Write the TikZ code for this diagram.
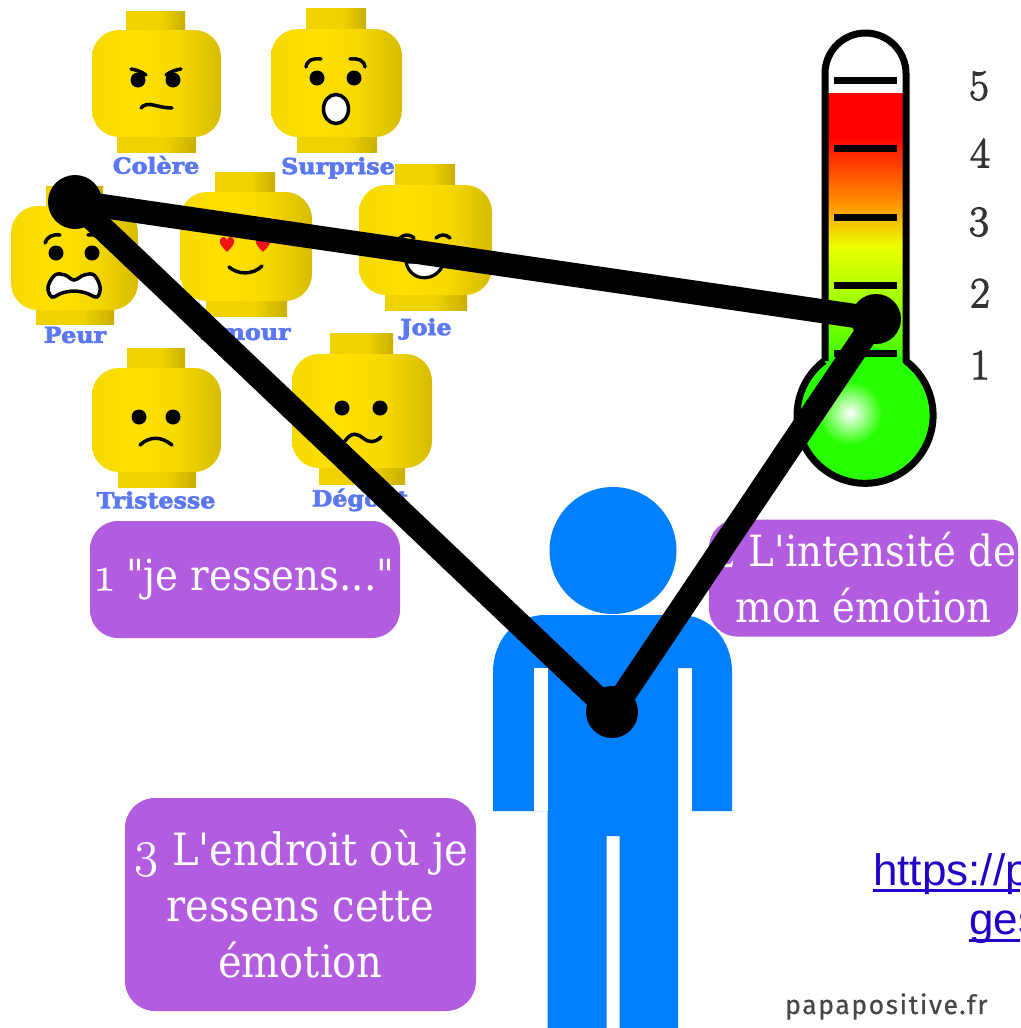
\documentclass[tikz,border=0pt]{standalone}
\usepackage{fontspec}
\setmainfont{Latin Modern Roman}
\newfontfamily\boxfont{DejaVu Serif Condensed}
\newfontfamily\oldnum{Latin Modern Roman}[Numbers=OldStyle,Scale=1.15,FakeBold=0.5]
\newfontfamily\numfont{Latin Modern Roman}[FakeBold=2.5]
\newfontfamily\slabfont{DejaVu Serif Bold}[FakeBold=3,FakeStretch=1.08]
\newfontfamily\urlfont{Liberation Sans}
\newfontfamily\markfont{Fira Sans}[LetterSpace=6,FakeBold=0.6]
\definecolor{legoA}{HTML}{FFE000}
\definecolor{legoB}{HTML}{F6D900}
\definecolor{legoC}{HTML}{D6BC00}
\definecolor{neckA}{HTML}{EFD200}
\definecolor{neckB}{HTML}{C9AF00}
\definecolor{labelblue}{HTML}{5C78F0}
\definecolor{personblue}{HTML}{0080FF}
\definecolor{boxpurple}{HTML}{B25CE0}
\definecolor{urlblue}{HTML}{2200C8}
\definecolor{bulbgreen}{HTML}{28FF00}
\definecolor{liquidA}{HTML}{A0FF00}
\definecolor{liquidB}{HTML}{EBFF00}
\definecolor{liquidC}{HTML}{FF9600}
\definecolor{heartred}{HTML}{EC1414}
\pgfdeclarehorizontalshading{legoface}{100bp}{color(0bp)=(legoB);color(25bp)=(legoB);color(42bp)=(legoA);color(58bp)=(legoB);color(75bp)=(legoC);color(100bp)=(legoC)}
\pgfdeclarehorizontalshading{legoneck}{100bp}{color(0bp)=(neckA);color(25bp)=(neckA);color(55bp)=(neckA);color(75bp)=(neckB);color(100bp)=(neckB)}
% liquid column of the thermometer, from green at the bulb up to red
\pgfdeclareverticalshading{liquid}{100bp}{color(0bp)=(bulbgreen);color(25bp)=(bulbgreen);color(37.6bp)=(liquidA);color(47.2bp)=(liquidB);color(54.8bp)=(liquidC);color(67.4bp)=(red);color(100bp)=(red)}
\tikzset{
  x=1pt,y=-1pt,
  feature/.style={draw=black,line width=3.5pt,line cap=round},
  eye/.style={fill=black},
  emotion/.style={font=\slabfont\fontsize{22}{22}\selectfont,text=labelblue,inner sep=0pt},
  infobox/.style={fill=boxpurple,rounded corners=28pt,inner sep=0pt,text=white,align=center,font=\boxfont\fontsize{44.5}{56}\selectfont},
  scalenum/.style={font=\numfont\fontsize{43}{43}\selectfont,text=black!80,inner sep=0pt},
  link/.style={draw=black,line width=24pt},
  joint/.style={circle,fill=black,inner sep=0pt},
  tick/.style={draw=black,line width=7pt},
  weblink/.style={font=\urlfont\fontsize{44}{44}\selectfont,text=urlblue,inner sep=0pt,anchor=base west},
}
\begin{document}
\begin{tikzpicture}
\useasboundingbox (0,0) rectangle (1020,1028);

% Lego heads: stud, chin and rounded face
\foreach \studL/\studR/\studT/\headL/\headR/\headT/\headB/\chinL/\chinR/\chinB in {
  126/185/11/92/221/30/137/117/196/152,
  306/366/8/271/402/29/137/297/377/152,
  46/103/186/11/138/206/310/36/114/324,
  215/275/172/180/312/192/301/206/287/316,
  395/455/164/359/492/185/295/385/467/310,
  127/185/348/92/221/368/472/118/196/487,
  330/393/333/292/432/354/468/319/405/484}
{
  \shade[shading=legoneck] (\studL,\studT) rectangle (\studR,\headT+2);
  \shade[shading=legoneck] (\chinL,\headB-2) rectangle (\chinR,\chinB);
  \shade[shading=legoface,rounded corners=27pt] (\headL,\headT) rectangle (\headR,\headB);
}

% Angry face
\draw[feature] (131,69) .. controls (137,70) and (142,72) .. (146,75);
\draw[feature] (181,69) .. controls (175,70) and (170,72) .. (166,75);
\fill[eye] (138,80) circle (7.5);
\fill[eye] (173,80) circle (7.5);
\draw[feature] (141,108) .. controls (148,100) and (156,108) .. (172,108);

% Surprised face
\draw[feature] (306,67) .. controls (307,60) and (313,58) .. (321,59);
\draw[feature] (365,67) .. controls (364,60) and (358,58) .. (350,59);
\fill[eye] (317,78) circle (7.5);
\fill[eye] (354,78) circle (7.5);
\draw[fill=white,line width=3.5pt] (336,109) ellipse (12.5 and 14.5);

% Frightened face
\draw[feature] (45,243) .. controls (47,237) and (52,234) .. (60,235);
\draw[feature] (103,243) .. controls (101,237) and (96,234) .. (88,235);
\fill[eye] (56,253) circle (7.5);
\fill[eye] (92,253) circle (7.5);
\draw[fill=white,line width=3.5pt] plot[smooth cycle,tension=0.6] coordinates
  {(48,287) (55,275) (65,275) (74,280) (84,275) (94,275) (100,287) (97,297) (86,293) (74,291) (62,293) (52,297)};

% Face in love
\foreach \hx in {227,263}
  \fill[heartred] (\hx,252) .. controls (\hx-6,246) and (\hx-8,243) .. (\hx-7,240)
    .. controls (\hx-6,236) and (\hx-1,236) .. (\hx,240)
    .. controls (\hx+1,236) and (\hx+6,236) .. (\hx+7,240)
    .. controls (\hx+8,243) and (\hx+6,246) .. (\hx,252) -- cycle;
\draw[feature] (229,267) .. controls (238,275) and (253,275) .. (262,266);

% Happy face
\draw[feature] (400,238) .. controls (404,234) and (410,234) .. (414,238);
\draw[feature] (436,238) .. controls (440,234) and (446,234) .. (450,238);
\draw[fill=white,line width=3.2pt] (406,262) .. controls (410,283) and (438,283) .. (444,262) -- cycle;

% Sad face
\fill[eye] (139,417) circle (7.5);
\fill[eye] (173,417) circle (7.5);
\draw[feature] (140,445) .. controls (150,436) and (161,436) .. (172,445);

% Disgusted face
\fill[eye] (342,408) circle (7.5);
\fill[eye] (380,408) circle (7.5);
\draw[feature] (345,441) .. controls (352,431) and (358,434) .. (363,438)
  .. controls (369,443) and (375,443) .. (381,437);

% Emotion names
\node[emotion] (colere) at (156,165) {Colère};
\node[emotion] (surprise) at (338,168) {Surprise};
\node[emotion] (peur) at (75,335) {Peur};
\node[emotion] (amour) at (246,332) {Amour};
\node[emotion] (joie) at (426,329) {Joie};
\node[emotion] (tristesse) at (156,500) {Tristesse};
\node[emotion] (degout) at (360,500) {Dégoût};

% Thermometer: glass, liquid column, bulb, ticks and outline
\fill[white] (825,73.5) arc[start angle=180,end angle=360,radius=40.5] -- (906,361) -- (825,361) -- cycle;
\shade[shading=liquid] (826,93) rectangle (905,370);
\fill[bulbgreen] (866,415) circle (68);
\shade[inner color=white,outer color=bulbgreen] (850,413) circle (32);
\foreach \ty in {80,148,217,285,353}
  \draw[tick] (834,\ty) -- (897,\ty);
\draw[line width=7pt,line join=round]
  (825,361) -- (825,73.5) arc[start angle=180,end angle=360,radius=40.5] -- (906,361)
  arc[start angle=-53,end angle=233,radius=68];

% Scale numbers
\node[scalenum] (n5) at (979,86) {5};
\node[scalenum] (n4) at (980,153) {4};
\node[scalenum] (n3) at (979,222) {3};
\node[scalenum] (n2) at (980,293) {2};
\node[scalenum] (n1) at (980,365) {1};

% Person
\fill[personblue] (613,550.5) circle (63.5);
\fill[personblue]
  (547.5,1028) -- (547.5,811) -- (493,811) -- (493,672)
  .. controls (493,640) and (515,615) .. (545,615)
  -- (680,615) .. controls (710,615) and (732,640) .. (732,672)
  -- (732,811) -- (692,811) -- (692,668) -- (678,668) -- (678,1028)
  -- (619.5,1028) -- (619.5,836) -- (606.5,836) -- (606.5,1028) -- cycle;
\fill[white] (533.5,668) rectangle (547.5,811);

% Numbered captions
\node[infobox,minimum width=310pt,minimum height=117pt,font=\boxfont\fontsize{43}{56}\selectfont] (cap1) at (245,579.5) {\raisebox{-4pt}{{\oldnum 1} "je ressens..."}};
\node[infobox,minimum width=309pt,minimum height=117pt,font=\boxfont\fontsize{43}{56}\selectfont] (cap2) at (863.5,578) {{\oldnum 2} L'intensité de\\mon émotion};
\node[infobox,minimum width=351pt,minimum height=213pt,rounded corners=30pt] (cap3) at (300.5,904.5) {{\oldnum 3} L'endroit où je\\ressens cette\\émotion};

% Truncated link and site name
\node[weblink] (url1) at (873,885) {\rlap{\rule[-7pt]{147pt}{3pt}}https://p};
\node[weblink] (url2) at (969,934) {\rlap{\rule[-8pt]{51pt}{3pt}}ges};
\node[font=\markfont\fontsize{26.5}{26.5}\selectfont,text=black!72,inner sep=0pt,anchor=base west] (site) at (785,1014) {papapositive.fr};

% Triangle joining emotion, intensity and body location
\node[joint,minimum size=54pt] (emotionpt) at (75,202) {};
\node[joint,minimum size=50pt] (intensitypt) at (876,319) {};
\node[joint,minimum size=52pt] (bodypt) at (612,712) {};
\draw[link] (emotionpt.center) -- (intensitypt.center);
\draw[link] (intensitypt.center) -- (bodypt.center);
\draw[link] (bodypt.center) -- (emotionpt.center);
\end{tikzpicture}
\end{document}
